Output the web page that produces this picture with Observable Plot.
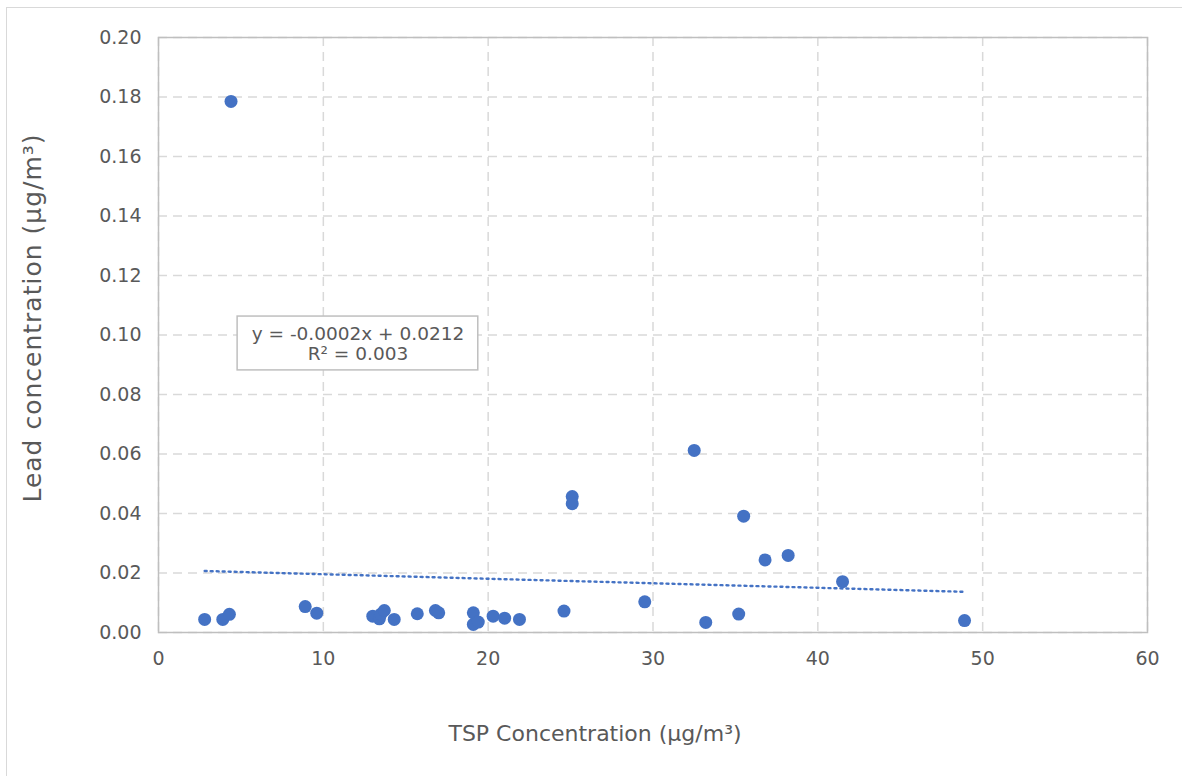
<!DOCTYPE html>
<html>
<head>
<meta charset="utf-8">
<script src="https://cdn.jsdelivr.net/npm/d3@7"></script>
<script src="https://cdn.jsdelivr.net/npm/@observablehq/plot@0.6"></script>
<style>
  html, body { margin: 0; padding: 0; background: #fff; }
  #wrap { position: relative; width: 1182px; height: 776px; overflow: hidden; }
  #border { position: absolute; left: 6px; top: 7px; width: 1182px; height: 776px;
            border: 1.5px solid #d9d9d9; box-sizing: border-box; pointer-events: none; }
</style>
</head>
<body>
<div id="wrap"><div id="border"></div></div>
<script>
// TSP concentration (µg/m³)
const tsp  = [2.8, 3.9, 4.3, 4.4, 8.9, 9.6, 13.0, 13.4, 13.5, 13.7, 14.3, 15.7, 16.8, 17.0,
              19.1, 19.1, 19.4, 20.3, 21.0, 21.9, 24.6, 25.1, 25.1, 29.5, 32.5, 33.2,
              35.2, 35.5, 36.8, 38.2, 41.5, 48.9];
// Lead concentration (µg/m³)
const lead = [0.0044, 0.0044, 0.0061, 0.1785, 0.0087, 0.0065, 0.0055, 0.0046, 0.0062, 0.0074,
              0.0044, 0.0063, 0.0074, 0.0066, 0.0066, 0.0027, 0.0035, 0.0055, 0.0048, 0.0044,
              0.0072, 0.0457, 0.0433, 0.0103, 0.0612, 0.0034, 0.0062, 0.0391, 0.0244, 0.0259,
              0.0171, 0.0040];
const xTicks = [0, 10, 20, 30, 40, 50, 60];
const yTicks = [0, 0.02, 0.04, 0.06, 0.08, 0.10, 0.12, 0.14, 0.16, 0.18, 0.20];
const xLabel = ["TSP Concentration (µg/m³)"];
const yLabel = ["Lead concentration (µg/m³)"];
const eqText = ["y = -0.0002x + 0.0212\nR² = 0.003"];
const eqCenter = [{x: 12.1, y: 0.0971}];
const eqBox = [{x1: 4.8, x2: 19.4, y1: 0.0881, y2: 0.1062}];

const points = tsp.map((x, i) => ({x, y: lead[i]}));
const blue = "#4472C4";
const textGrey = "#595959";
const gridStyle = {stroke: "#d9d9d9", strokeOpacity: 1, strokeWidth: 1.5, strokeDasharray: "9,6"};

const chart = Plot.plot({
  width: 1182,
  height: 776,
  marginLeft: 158,
  marginRight: 35,
  marginTop: 37,
  marginBottom: 144,
  style: {fontFamily: "DejaVu Sans", fontSize: "19px", color: textGrey, background: "transparent"},
  x: {domain: [0, 60]},
  y: {domain: [0, 0.2]},
  marks: [
    Plot.gridX(xTicks, gridStyle),
    Plot.gridY(yTicks, gridStyle),
    Plot.frame({stroke: "#bfbfbf", strokeWidth: 1.5}),
    Plot.axisX({ticks: xTicks, tickSize: 0, tickPadding: 19, fill: textGrey, label: null}),
    Plot.axisY({ticks: yTicks, tickSize: 0, tickPadding: 17, tickFormat: d3.format(".2f"), fill: textGrey, label: null}),
    Plot.text(xLabel, {frameAnchor: "bottom", textAnchor: "middle", lineAnchor: "middle",
                       dx: -58, dy: 101, fontSize: 22, fill: textGrey}),
    Plot.text(yLabel, {frameAnchor: "left", textAnchor: "middle", lineAnchor: "middle", rotate: -90,
                       dx: -126, dy: -17, fontSize: 25, fill: textGrey}),
    Plot.linearRegressionY(points, {x: "x", y: "y", ci: 0, stroke: blue, strokeWidth: 2.4, strokeDasharray: "2,4"}),
    Plot.dot(points, {x: "x", y: "y", r: 6.5, fill: blue, stroke: null}),
    Plot.rect(eqBox, {x1: "x1", x2: "x2", y1: "y1", y2: "y2", fill: "white", stroke: "#bfbfbf", strokeWidth: 1.5}),
    Plot.text(eqCenter, {x: "x", y: "y", text: () => eqText[0], fontSize: 18.5, fill: textGrey, lineHeight: 1.05})
  ]
});
// letter spacing for the rotated y label
chart.querySelectorAll("text").forEach(t => {
  if (t.textContent === yLabel[0]) t.setAttribute("letter-spacing", "1");
});
document.getElementById("wrap").prepend(chart);
</script>
</body>
</html>
